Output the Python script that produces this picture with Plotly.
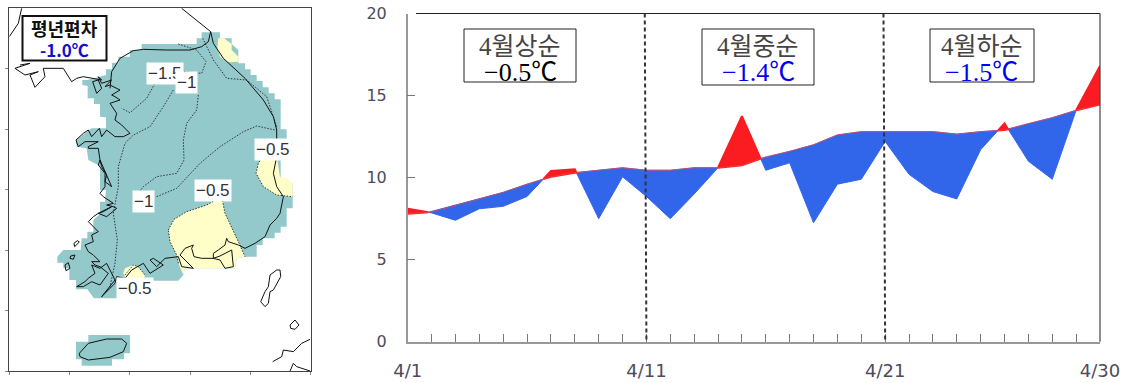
import plotly.graph_objects as go

# ---------- time series ----------
days = list(range(1, 31))
normal = [7.8, 7.9, 8.3, 8.7, 9.1, 9.6, 10.05, 10.3, 10.45, 10.6,
          10.45, 10.45, 10.6, 10.6, 10.75, 11.27, 11.6, 12.0, 12.6, 12.8,
          12.8, 12.8, 12.8, 12.65, 12.8, 12.9, 13.3, 13.65, 14.1, 14.45]
actual = [8.1, 7.85, 7.4, 8.1, 8.25, 8.85, 10.4, 10.5, 7.5, 10.05,
          8.85, 7.5, 9.0, 10.6, 13.75, 10.45, 10.9, 7.25, 9.6, 9.9,
          12.2, 10.2, 9.15, 8.7, 11.7, 13.3, 11.0, 9.9, 14.1, 16.8]
y_ticks = [0, 5, 10, 15, 20]
x_label_days = {1: "4/1", 11: "4/11", 21: "4/21", 30: "4/30"}
split_days = [11, 21]

# ---------- map outlines (map grid units) ----------
teal_x = [425,590,590,605,605,660,660,695,695,715,715,735,735,752,752,770,770,788,788,806,806,824,824,842,842,860,860,842,842,860,860,878,878,860,860,842,842,824,824,788,788,770,770,735,710,705,555,550,535,350,355,370,370,282,262,228,228,208,208,190,190,172,172,190,242,245,262,262,280,280,300,300,315,318,300,300,265,260,230,228,275,318,318,300,300,282,282,263,263,247,247,262,318,318,336,336,355,355,390,390,425,425]
teal_y = [132,132,115,115,97,97,115,115,132,150,190,190,208,208,225,225,243,243,262,262,280,280,298,298,388,388,424,424,534,534,550,550,625,625,680,680,698,698,715,715,735,735,770,770,775,805,805,825,842,842,880,880,895,895,868,868,840,840,805,805,788,788,770,750,750,715,715,695,695,660,642,605,605,570,570,498,480,445,440,420,385,385,352,350,312,312,295,295,258,255,240,240,225,208,208,188,188,170,170,150,150,132]
teal_j_x = [228,265,265,390,390,372,372,336,336,245,245,228,228]
teal_j_y = [1025,1025,1005,1005,1060,1060,1078,1078,1097,1097,1078,1078,1025]
yellow_n_x = [655,672,695,695,715,715,685,660,652,655]
yellow_n_y = [115,115,132,150,170,185,187,170,145,115]
yellow_e_x = [790,830,840,860,878,878,830,790,768,775,790]
yellow_e_y = [468,468,530,534,550,590,585,560,520,490,468]
yellow_s_x = [505,522,560,620,665,675,715,735,710,705,555,550,535,530,510,505]
yellow_s_y = [690,658,635,615,590,640,725,770,775,805,805,825,790,765,725,690]
yellow_w_x = [370,375,400,415,435,430,380,370]
yellow_w_y = [820,805,795,800,825,842,842,820]

# east coast, south coast, west coast, north-west coast
coast_main_x = [545,590,632,640,670,735,790,820,830,830,820,830,850,840,830,810,795,765,735,715,685,680,675,655,640,640,660,695,700,675,660,640,605,582,575,580,555,540,570,580,545,535,495,470,450,460,490,450,430,395,375,350,345,330,305,
                325,345,320,300,275,285,265,255,230,250,275,300,325,300,285,275,300,280,265,255,280,275,295,265,280,295,335,310,295,320,350,340,320,340,310,300,315,315,295,300,
                335,315,320,305,300,295,265,265,295,255,235,228,250,265,275,298,305,320,345,370,390,365,345,350,330,360,345,335,360,330,315,335,305,295,305,250,230,215,190,130,135,105,90,115,75,45,90,60,28]
coast_main_y = [25,60,95,130,175,235,300,350,390,470,520,560,590,640,655,675,710,730,745,735,725,715,735,750,760,775,768,750,800,805,780,775,775,770,745,735,745,765,795,805,800,770,775,800,780,775,795,820,790,810,835,830,850,865,890,
                865,840,790,805,795,820,835,845,860,860,845,855,820,800,795,785,785,765,755,735,725,705,695,665,650,640,620,635,640,650,625,620,615,610,590,580,560,520,495,480,
                560,545,525,500,480,445,445,440,425,425,440,420,400,390,410,385,410,390,410,410,400,375,360,340,310,300,290,285,270,255,260,240,250,230,240,230,235,245,205,205,230,262,225,215,225,205,190,195]
coast_dmz_x = [632,625,605,570,500,430,400,360,335,330]
coast_dmz_y = [95,125,140,150,150,148,152,175,215,265]
jeju_x = [238,265,320,365,380,370,330,265,240,238]
jeju_y = [1060,1030,1017,1017,1030,1055,1072,1080,1070,1060]
tsushima_x = [810,830,840,842,820,810,805,795,782,795,805,810]
tsushima_y = [825,810,810,830,870,875,910,920,905,875,860,825]
islet_x = [870,885,897,885,872,870]
islet_y = [975,960,975,988,985,975]
japan_a_x = [818,845,850,880,905,930]
japan_a_y = [1085,1070,1050,1055,1030,1018]
japan_b_x = [870,880,890,930]
japan_b_y = [1113,1090,1100,1113]
north_x = [65,55,28]
north_y = [25,70,110]
isl_sw_x = [195,205,210,198,195]
isl_sw_y = [795,788,805,812,795]
isl_w_x = [212,225,220,210,212]
isl_w_y = [768,765,778,775,768]
isl_w2_x = [222,232,238,224,222]
isl_w2_y = [730,722,726,740,730]
isl_n_x = [278,295,305,290,278]
isl_n_y = [245,240,265,280,245]

contour_a_x = [535,590,618,605,550,465,440,390,365]
contour_a_y = [132,150,185,220,215,250,295,338,325]
contour_b_x = [595,590,560,550,552,530,470,430,415]
contour_b_y = [285,330,370,420,480,520,530,560,580]
contour_c_x = [520,490,450,400,375,355,355,340,352,345,330,305]
contour_c_y = [270,320,380,405,430,500,560,640,720,790,860,890]
contour_d_x = [470,530,600,660,730,770,825]
contour_d_y = [590,565,490,440,395,378,390]
contour_e_x = [608,640,680,740,800,830]
contour_e_y = [115,180,235,240,290,380]
contour_s_x = yellow_s_x[:8]
contour_s_y = yellow_s_y[:8]
contour_s2_x = yellow_s_x[12:15] + [505]
contour_s2_y = yellow_s_y[12:15] + [690]
contour_f_x = [790,775,768,790,830,878]
contour_f_y = [468,490,520,560,585,590]
contour_g_x = [375,400,415,435]
contour_g_y = [825,795,800,825]

map_labels = ["\u22121.5", "\u22121", "\u22120.5", "\u22120.5", "\u22121", "\u22120.5"]
map_label_x = [495, 558, 820, 640, 430, 405]
map_label_y = [220, 248, 447, 570, 603, 865]

# ---------- helpers ----------
W, H = 1131, 383
def px(x): return x / W
def py(y): return 1 - y / H

def runs(xs, top, base, above):
    """Polygons of the stretches where top is above (or below) base, with computed crossings."""
    out_x, out_y = [], []
    cur = []
    def flush():
        nonlocal cur, out_x, out_y
        xx = [p[0] for p in cur] + [p[0] for p in reversed(cur)]
        yy = [p[1] for p in cur] + [p[2] for p in reversed(cur)]
        out_x += xx + [None]
        out_y += yy + [None]
        cur = []
    for i in range(len(xs) - 1):
        d0, d1 = top[i] - base[i], top[i + 1] - base[i + 1]
        if not above:
            d0, d1 = -d0, -d1
        p0 = (xs[i], top[i], base[i])
        p1 = (xs[i + 1], top[i + 1], base[i + 1])
        if d0 > 0 and not cur:
            cur = [p0]
        if d0 * d1 < 0:
            t = d0 / (d0 - d1)
            xc = xs[i] + t
            yc = base[i] + t * (base[i + 1] - base[i])
            if d0 > 0:
                cur.append((xc, yc, yc))
                flush()
            else:
                cur = [(xc, yc, yc), p1]
        elif d0 <= 0 and d1 > 0:
            cur = [p0, p1]
        elif d0 > 0 and d1 > 0:
            cur.append(p1)
        elif d0 > 0 and d1 == 0:
            cur.append(p1)
            flush()
    if cur:
        flush()
    return out_x, out_y

fig = go.Figure()

# chart
rx, ry = runs(days, actual, normal, True)
bx, by = runs(days, actual, normal, False)
fig.add_trace(go.Scatter(x=bx, y=by, fill="toself", fillcolor="#3266EA", mode="lines",
                         line=dict(color="#3266EA", width=1), xaxis="x", yaxis="y", name="low"))
fig.add_trace(go.Scatter(x=rx, y=ry, fill="toself", fillcolor="#FA1C20", mode="lines",
                         line=dict(color="#FA1C20", width=2), xaxis="x", yaxis="y", name="high"))
fig.add_trace(go.Scatter(x=days, y=normal, mode="lines", line=dict(color="rgba(240,70,70,0.7)", width=1),
                         xaxis="x", yaxis="y", name="normal"))

# map
def poly(xs, ys, color):
    fig.add_trace(go.Scatter(x=xs, y=ys, fill="toself", fillcolor=color, mode="none",
                             xaxis="x2", yaxis="y2"))
def line(xs, ys, color="#111111", width=1.0, dash="solid"):
    fig.add_trace(go.Scatter(x=xs, y=ys, mode="lines", line=dict(color=color, width=width, dash=dash),
                             xaxis="x2", yaxis="y2"))

poly(teal_x, teal_y, "#94C9CB")
poly(teal_j_x, teal_j_y, "#94C9CB")
for xs, ys in [(yellow_n_x, yellow_n_y), (yellow_e_x, yellow_e_y), (yellow_s_x, yellow_s_y), (yellow_w_x, yellow_w_y)]:
    poly(xs, ys, "#FFFDC8")
for xs, ys in [(contour_a_x, contour_a_y), (contour_b_x, contour_b_y), (contour_c_x, contour_c_y),
               (contour_d_x, contour_d_y), (contour_e_x, contour_e_y), (contour_s_x, contour_s_y),
               (contour_s2_x, contour_s2_y), (contour_f_x, contour_f_y), (contour_g_x, contour_g_y)]:
    line(xs, ys, "#222222", 0.9, "1.5px,1.5px")
for xs, ys in [(coast_main_x, coast_main_y), (coast_dmz_x, coast_dmz_y), (jeju_x, jeju_y), (tsushima_x, tsushima_y),
               (islet_x, islet_y), (japan_a_x, japan_a_y), (japan_b_x, japan_b_y), (north_x, north_y),
               (isl_sw_x, isl_sw_y), (isl_w_x, isl_w_y), (isl_w2_x, isl_w2_y), (isl_n_x, isl_n_y)]:
    line(xs, ys)

shapes, annos = [], []

# dashed dividers, very slightly slanted as in the source
for d in split_days:
    shapes.append(dict(type="line", xref="x", yref="y", x0=d - 0.07, x1=d, y0=20, y1=0,
                       line=dict(color="#333333", width=2, dash="4px,3px")))
# top and right frame of the chart
shapes.append(dict(type="line", xref="x domain", yref="y domain", x0=0.012, x1=1, y0=1, y1=1,
                   line=dict(color="#222222", width=1.2)))
shapes.append(dict(type="line", xref="x domain", yref="y domain", x0=1, x1=1, y0=0, y1=1,
                   line=dict(color="#444444", width=1.2)))

# period boxes
SERIF = "Liberation Serif, Noto Sans CJK KR"
periods = [("4월상순", "\u22120.5℃", "#000000", 464, 576, 29, 82),
           ("4월중순", "\u22121.4℃", "#0000F0", 702, 814, 29, 85),
           ("4월하순", "\u22121.5℃", "#0000F0", 930, 1034, 29, 82)]
for name, val, col, x0, x1, y0, y1 in periods:
    shapes.append(dict(type="rect", xref="paper", yref="paper", x0=px(x0), x1=px(x1), y0=py(y1), y1=py(y0),
                       line=dict(color="#222222", width=1), fillcolor="white", layer="above"))
    annos.append(dict(xref="paper", yref="paper", x=px((x0 + x1) / 2), y=py(46), text=name, showarrow=False,
                      font=dict(family=SERIF, size=25, color="#444444"), xanchor="center", yanchor="middle"))
    annos.append(dict(xref="paper", yref="paper", x=px((x0 + x1) / 2), y=py(72), text=val, showarrow=False,
                      font=dict(family=SERIF, size=26, color=col), xanchor="center", yanchor="middle"))

# map box
shapes.append(dict(type="rect", xref="paper", yref="paper", x0=px(22.5), x1=px(106.5), y0=py(60.5), y1=py(16),
                   line=dict(color="#111111", width=2), fillcolor="white", layer="above"))
annos.append(dict(xref="paper", yref="paper", x=px(64), y=py(28), text="평년편차", showarrow=False,
                  font=dict(family="Noto Sans CJK KR", size=18, color="#111111", weight="bold"),
                  xanchor="center", yanchor="middle"))
annos.append(dict(xref="paper", yref="paper", x=px(64), y=py(50), text="-1.0℃", showarrow=False,
                  font=dict(family="Noto Sans CJK KR", size=17, color="#1010D0", weight="bold"),
                  xanchor="center", yanchor="middle"))

for t, x, y in zip(map_labels, map_label_x, map_label_y):
    annos.append(dict(xref="x2", yref="y2", x=x, y=y, text=t, showarrow=False, bgcolor="white",
                      font=dict(family="Liberation Sans", size=17, color="#333333"),
                      xanchor="center", yanchor="middle", borderpad=1))

YFONT = dict(family="DejaVu Sans", size=16, color="#4c4c5c")
XFONT = dict(family="DejaVu Sans", size=18, color="#4c4c5c")
fig.update_layout(
    width=W, height=H, margin=dict(l=0, r=0, t=0, b=0), autosize=False,
    paper_bgcolor="white", plot_bgcolor="white", showlegend=False, hovermode=False,
    shapes=shapes, annotations=annos,
    xaxis=dict(domain=[px(407.7), px(1100)], range=[1, 30], tickvals=days, automargin=False,
               ticktext=[x_label_days.get(d, "") for d in days], ticks="inside", ticklen=8,
               tickcolor="#777777", showgrid=False, zeroline=False, showline=True, linecolor="#999999",
               linewidth=1.5, tickfont=XFONT, ticklabelstandoff=12, tickangle=0, anchor="y"),
    yaxis=dict(domain=[py(341.7), py(13.5)], range=[0, 20], tickvals=y_ticks, ticks="inside", ticklen=8,
               tickcolor="#777777", showgrid=False, zeroline=False, showline=True, linecolor="#999999",
               linewidth=1.5, tickfont=YFONT, ticklabelstandoff=16, anchor="x", automargin=False),
    xaxis2=dict(domain=[px(9.3), px(310.7)], range=[28, 932], tickvals=[28, 209, 390, 570, 750, 932],
                showticklabels=False, ticks="outside", ticklen=3, tickcolor="#888888", showgrid=False,
                zeroline=False, showline=True, mirror=True, linecolor="#444444", linewidth=1, anchor="y2",
                automargin=False),
    yaxis2=dict(domain=[py(371), py(8)], range=[1113, 24], tickvals=[205, 388, 568, 750, 932, 1113],
                showticklabels=False, ticks="outside", ticklen=3, tickcolor="#888888", showgrid=False,
                zeroline=False, showline=True, mirror=True, linecolor="#444444", linewidth=1, anchor="x2",
                automargin=False),
)

fig.write_html("out.html", config={"displayModeBar": False}, post_script="document.body.style.margin='0';")
